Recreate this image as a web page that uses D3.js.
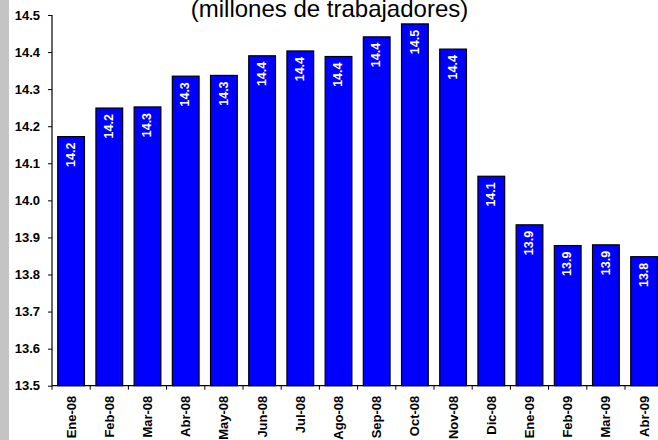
<!DOCTYPE html>
<html>
<head>
<meta charset="utf-8">
<script src="https://cdn.jsdelivr.net/npm/d3@7"></script>
<style>
  html, body { margin: 0; padding: 0; background: #fff; }
  svg { display: block; font-family: Arial, "Liberation Sans", sans-serif; }
</style>
</head>
<body>
<svg id="chart" width="658" height="440"></svg>
<script>
const categories = ["Ene-08","Feb-08","Mar-08","Abr-08","May-08","Jun-08","Jul-08","Ago-08","Sep-08","Oct-08","Nov-08","Dic-08","Ene-09","Feb-09","Mar-09","Abr-09"];
const values = [14.172, 14.249, 14.252, 14.335, 14.337, 14.390, 14.403, 14.388, 14.441, 14.476, 14.408, 14.065, 13.934, 13.878, 13.880, 13.848];
const yTicks = [13.5, 13.6, 13.7, 13.8, 13.9, 14.0, 14.1, 14.2, 14.3, 14.4, 14.5];
const titleText = "(millones de trabajadores)";

(function () {
const svg = d3.select("#chart");
const W = 658, H = 440;
const plotLeft = 52, plotTop = 15, bottomY = 385.7, rightX = 52 + 16 * 38.2;

svg.append("rect").attr("x", 0).attr("y", 0).attr("width", 9).attr("height", H).attr("fill", "#c4c4c4");

const x = d3.scaleBand().domain(categories).range([plotLeft, rightX]).paddingInner(0.3).paddingOuter(0.15);
const y = d3.scaleLinear().domain([13.5, 14.5]).range([bottomY, plotTop]);

// title
svg.append("text").attr("x", 329.5).attr("y", 17).attr("text-anchor", "middle")
  .attr("font-size", 24).attr("fill", "#000").text(titleText);

// bars
svg.append("g").selectAll("rect").data(values).join("rect")
  .attr("x", (d, i) => x(categories[i]))
  .attr("y", d => y(d))
  .attr("width", x.bandwidth())
  .attr("height", d => y(13.5) - y(d))
  .attr("fill", "#0000ff")
  .attr("stroke", "#000")
  .attr("stroke-width", 1.2);

// value labels
svg.append("g").selectAll("text").data(values).join("text")
  .attr("transform", (d, i) => `translate(${x(categories[i]) + x.bandwidth() / 2},${y(d) + 6}) rotate(-90)`)
  .attr("text-anchor", "end")
  .attr("dy", "0.3em")
  .attr("font-size", 12.5)
  .attr("font-weight", "bold")
  .attr("fill", "#fff")
  .text(d => d3.format(".1f")(d));

// y axis
const yAxis = svg.append("g").attr("transform", `translate(${plotLeft},0)`)
  .call(d3.axisLeft(y).tickValues(yTicks).tickFormat(d3.format(".1f")).tickSize(4).tickPadding(8));
yAxis.select(".domain").attr("stroke", "#000").attr("stroke-width", 1.2).attr("d", `M0,${plotTop}V${bottomY}`);
yAxis.selectAll("text").attr("font-size", 13).attr("font-weight", "bold").attr("fill", "#000").attr("font-family", "Arial, 'Liberation Sans', sans-serif");

// x axis baseline
svg.append("line").attr("x1", plotLeft).attr("x2", rightX).attr("y1", bottomY).attr("y2", bottomY)
  .attr("stroke", "#000").attr("stroke-width", 1.2);

// boundary ticks
const step = x.step();
const bounds = d3.range(categories.length + 1).map(i => x.range()[0] + i * step);
svg.append("g").selectAll("line").data(bounds).join("line")
  .attr("x1", d => d).attr("x2", d => d)
  .attr("y1", bottomY).attr("y2", bottomY + 4)
  .attr("stroke", "#000").attr("stroke-width", 1);

// x labels
svg.append("g").selectAll("text").data(categories).join("text")
  .attr("transform", d => `translate(${x(d) + x.bandwidth() / 2},${bottomY + 10}) rotate(-90)`)
  .attr("text-anchor", "end")
  .attr("dy", "0.35em")
  .attr("font-size", 13)
  .attr("font-weight", "bold")
  .attr("fill", "#000")
  .text(d => d);
})();
</script>
</body>
</html>
